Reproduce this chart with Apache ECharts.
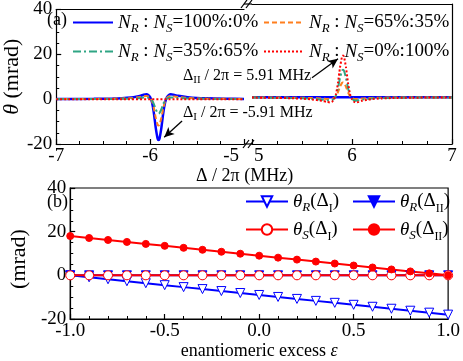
<!DOCTYPE html>
<html>
<head>
<meta charset="utf-8">
<script src="https://cdn.jsdelivr.net/npm/echarts@6/dist/echarts.min.js"></script>
<style>html,body{margin:0;padding:0;background:#fff}#main{width:463px;height:361px}</style>
</head>
<body>
<div id="main"></div>
<script>
var F = "'Liberation Serif', 'Times New Roman', serif";

// panel (a), left part: detuning around -5.91 MHz
var detL = [-7, -6.6, -6.4, -6.3, -6.2, -6.15, -6.1, -6.07, -6.04, -6.02, -6.0, -5.98, -5.96, -5.94, -5.92, -5.91, -5.9, -5.88, -5.86, -5.84, -5.82, -5.8, -5.78, -5.75, -5.7, -5.6, -5.5, -5.4, -5.2, -5.0];
var blueL = [0.05, 0.15, 0.3, 0.45, 0.75, 1.05, 1.5, 1.95, 2.2, 1.9, 0.9, -1.4, -6.2, -12.8, -17.6, -18.2, -17.6, -12.8, -6.2, -1.4, 0.9, 1.9, 2.2, 1.95, 1.5, 0.9, 0.55, 0.4, 0.2, 0.1];
var orangeL = [0.03, 0.1, 0.2, 0.3, 0.5, 0.7, 1.0, 1.25, 1.45, 1.25, 0.6, -0.9, -4.0, -8.3, -11.4, -11.8, -11.4, -8.3, -4.0, -0.9, 0.6, 1.25, 1.45, 1.25, 1.0, 0.6, 0.35, 0.25, 0.15, 0.05];
var greenL = [0.02, 0.05, 0.1, 0.15, 0.25, 0.35, 0.5, 0.7, 0.75, 0.65, 0.3, -0.5, -2.2, -4.5, -6.2, -6.4, -6.2, -4.5, -2.2, -0.5, 0.3, 0.65, 0.75, 0.7, 0.5, 0.3, 0.2, 0.15, 0.05, 0.02];
var flatL = [-7, -5];
var redL = [0, 0];

// panel (a), right part: detuning around +5.91 MHz
var detR = [5.0, 5.2, 5.4, 5.5, 5.6, 5.7, 5.75, 5.78, 5.8, 5.82, 5.84, 5.86, 5.88, 5.9, 5.91, 5.92, 5.94, 5.96, 5.98, 6.0, 6.02, 6.04, 6.07, 6.1, 6.15, 6.2, 6.3, 6.4, 6.6, 7.0];
var redR = [-0.1, -0.2, -0.4, -0.55, -0.9, -1.5, -1.95, -2.2, -1.9, -0.9, 1.4, 6.2, 12.8, 17.4, 17.9, 17.4, 12.8, 6.2, 1.4, -0.9, -1.9, -2.2, -1.95, -1.5, -1.05, -0.75, -0.45, -0.3, -0.15, -0.05];
var greenR = [-0.05, -0.15, -0.25, -0.35, -0.6, -1.0, -1.25, -1.45, -1.25, -0.6, 0.9, 4.0, 8.3, 11.4, 11.8, 11.4, 8.3, 4.0, 0.9, -0.6, -1.25, -1.45, -1.25, -1.0, -0.7, -0.5, -0.3, -0.2, -0.1, -0.03];
var orangeR = [-0.02, -0.05, -0.15, -0.2, -0.3, -0.5, -0.7, -0.75, -0.65, -0.3, 0.5, 2.2, 4.5, 6.2, 6.4, 6.2, 4.5, 2.2, 0.5, -0.3, -0.65, -0.75, -0.7, -0.5, -0.35, -0.25, -0.15, -0.1, -0.05, -0.02];
var flatR = [5, 7];
var blueR = [0, 0];

// panel (b)
var eps = [-1.0, -0.9, -0.8, -0.7, -0.6, -0.5, -0.4, -0.3, -0.2, -0.1, 0.0, 0.1, 0.2, 0.3, 0.4, 0.5, 0.6, 0.7, 0.8, 0.9, 1.0];
var thRI = [0, -0.9, -1.8, -2.7, -3.6, -4.5, -5.4, -6.3, -7.2, -8.1, -9.0, -9.9, -10.8, -11.7, -12.6, -13.5, -14.4, -15.3, -16.2, -17.1, -18.0];
var thRII = [0, 0, 0, 0, 0, 0, 0, 0, 0, 0, 0, 0, 0, 0, 0, 0, 0, 0, 0, 0, 0];
var thSI = [0, 0, 0, 0, 0, 0, 0, 0, 0, 0, 0, 0, 0, 0, 0, 0, 0, 0, 0, 0, 0];
var thSII = [18.0, 17.1, 16.2, 15.3, 14.4, 13.5, 12.6, 11.7, 10.8, 9.9, 9.0, 8.1, 7.2, 6.3, 5.4, 4.5, 3.6, 2.7, 1.8, 0.9, 0];

var yTicks = [-20, 40, 20];

function pairs(xs, ys) {
    return xs.map(function (x, i) { return [x, ys[i]]; });
}

var BLUE = '#0000ff', ORANGE = '#ff7f1e', GREEN = '#2fa584', RED = '#ff0000';

var rich = {
    i: {fontFamily: F, fontSize: 19, fontStyle: 'italic', lineHeight: 26, color: '#000'},
    n: {fontFamily: F, fontSize: 19, lineHeight: 26, color: '#000'},
    s: {fontFamily: F, fontSize: 13, fontStyle: 'italic', lineHeight: 12, verticalAlign: 'bottom', color: '#000'},
    u: {fontFamily: F, fontSize: 12, lineHeight: 12, verticalAlign: 'bottom', color: '#000'}
};
var labels = {
    r100: '{i|N}{s|R}{n| : }{i|N}{s|S}{n|=100%:0%}',
    r65: '{i|N}{s|R}{n| : }{i|N}{s|S}{n|=65%:35%}',
    r35: '{i|N}{s|R}{n| : }{i|N}{s|S}{n|=35%:65%}',
    r0: '{i|N}{s|R}{n| : }{i|N}{s|S}{n|=0%:100%}',
    RI: '{i|θ}{s|R}{n|(Δ}{u|I}{n|)}',
    RII: '{i|θ}{s|R}{n|(Δ}{u|II}{n|)}',
    SI: '{i|θ}{s|S}{n|(Δ}{u|I}{n|)}',
    SII: '{i|θ}{s|S}{n|(Δ}{u|II}{n|)}'
};

function legend(name, left, top, w, h, noSym) {
    var l = {
        data: [name], left: left, top: top, padding: 0, itemWidth: w, itemHeight: h,
        selectedMode: false,
        formatter: function (n) { return labels[n]; },
        textStyle: {fontFamily: F, fontSize: 19, color: '#000', rich: rich}
    };
    if (noSym) l.itemStyle = {opacity: 0, borderWidth: 0};
    return l;
}

var lbl = {color: '#000', fontFamily: F, fontSize: 19, margin: 4};
var line = {show: true, onZero: false, lineStyle: {color: '#000', width: 1.2}};
var tick = {show: true, inside: true, length: 5, lineStyle: {color: '#000', width: 1.2}};
var minor = {show: true, splitNumber: 4, length: 3, lineStyle: {color: '#000', width: 1}};
var bare = {axisLine: line, axisTick: {show: false}, axisLabel: {show: false}, splitLine: {show: false}};
var edge = {
    l: {fontFamily: F, fontSize: 19, color: '#000', padding: [0, 5, 0, 0]},
    r: {fontFamily: F, fontSize: 19, color: '#000', padding: [0, 0, 0, 2]}
};

function yAxis(grid, pos, showLab) {
    return {
        type: 'value', gridIndex: grid, position: pos, min: yTicks[0], max: yTicks[1], interval: yTicks[2],
        axisLine: line, axisTick: showLab ? tick : {show: false},
        minorTick: showLab ? minor : {show: false},
        axisLabel: showLab ? lbl : {show: false}, splitLine: {show: false}
    };
}

function curve(name, grid, xs, ys, color, type, width) {
    return {
        name: name, type: 'line', xAxisIndex: grid * 2, yAxisIndex: grid,
        data: pairs(xs, ys), symbol: 'none', smooth: 0.2,
        lineStyle: {color: color, width: width, type: type}, itemStyle: {color: color}
    };
}

function pts(name, ys, color, sym, fill, size) {
    return {
        name: name, type: 'line', xAxisIndex: 4, yAxisIndex: 2, data: pairs(eps, ys),
        symbol: sym, symbolSize: size, symbolRotate: sym === 'triangle' ? 180 : 0,
        lineStyle: {color: color, width: 2},
        itemStyle: {color: fill, borderColor: color, borderWidth: 1}
    };
}

var series = [
    curve('r100', 0, detL, blueL, BLUE, 'solid', 2.5),
    curve('r65', 0, detL, orangeL, ORANGE, [5, 3], 2),
    curve('r35', 0, detL, greenL, GREEN, [8, 3, 2, 3], 2),
    curve('r0', 0, flatL, redL, RED, [2, 2], 2),
    curve('r100', 1, flatR, blueR, BLUE, 'solid', 2.5),
    curve('r65', 1, detR, orangeR, ORANGE, [5, 3], 2),
    curve('r35', 1, detR, greenR, GREEN, [8, 3, 2, 3], 2),
    curve('r0', 1, detR, redR, RED, [2, 2], 2),
    pts('RI', thRI, BLUE, 'triangle', '#fff', 9),
    pts('RII', thRII, BLUE, 'triangle', BLUE, 9),
    pts('SI', thSI, RED, 'circle', '#fff', 9),
    pts('SII', thSII, RED, 'circle', RED, 7)
];
var arrow = {
    silent: true, symbol: ['none', 'arrow'], symbolSize: [7, 10], label: {show: false},
    lineStyle: {color: '#000', width: 1.3, type: 'solid'}
};
series[0].markLine = Object.assign({data: [[{coord: [-5.66, -9.7]}, {coord: [-5.85, -17.0]}]]}, arrow);
series[7].markLine = Object.assign({data: [[{coord: [5.6, 8.4]}, {coord: [5.86, 16.5]}]]}, arrow);

var richName = {
    n: {fontFamily: F, fontSize: 22, color: '#000'},
    i: {fontFamily: F, fontSize: 22, fontStyle: 'italic', color: '#000'}
};
var subText = {
    n: {fontFamily: F, fontSize: 16, lineHeight: 20, fill: '#000'},
    u: {fontFamily: F, fontSize: 11, lineHeight: 10, verticalAlign: 'bottom', fill: '#000'}
};
var panelTitle = {fontFamily: F, fontSize: 18, fontWeight: 'normal', color: '#000'};

var chart = echarts.init(document.getElementById('main'));
chart.setOption({
    animation: false,
    backgroundColor: '#fff',
    title: [
        {text: '(a)', left: 47, top: 11, padding: 0, textStyle: panelTitle},
        {text: '(b)', left: 47, top: 193, padding: 0, textStyle: panelTitle}
    ],
    grid: [
        {left: 44, top: 4, width: 200, height: 140},
        {left: 252, top: 4, width: 200, height: 140},
        {left: 44, top: 188, width: 408, height: 137, show: true, borderColor: '#000', borderWidth: 1.2}
    ],
    xAxis: [
        {type: 'value', gridIndex: 0, min: -7, max: -5, interval: 1, axisLine: line, axisTick: tick, minorTick: minor,
            axisLabel: Object.assign({}, lbl, {margin: 3, alignMaxLabel: 'right', rich: edge,
                formatter: function (v) { return v === -5 ? '{l|-5}' : String(v); }}),
            splitLine: {show: false}},
        Object.assign({type: 'value', gridIndex: 0, position: 'top', min: -7, max: -5}, bare),
        {type: 'value', gridIndex: 1, min: 5, max: 7, interval: 1, axisLine: line, axisTick: tick, minorTick: minor,
            axisLabel: Object.assign({}, lbl, {margin: 3, alignMinLabel: 'left', rich: edge,
                formatter: function (v) { return v === 5 ? '{r|5}' : String(v); }}),
            splitLine: {show: false}},
        Object.assign({type: 'value', gridIndex: 1, position: 'top', min: 5, max: 7}, bare),
        {type: 'value', gridIndex: 2, min: -1, max: 1, interval: 0.5, axisLine: line, axisTick: tick,
            minorTick: {show: true, splitNumber: 5, length: 3, lineStyle: {color: '#000', width: 1}},
            axisLabel: Object.assign({formatter: function (v) { return v.toFixed(1); }}, lbl, {margin: 3}),
            splitLine: {show: false},
            name: '{n|enantiomeric excess }{i|ε}', nameLocation: 'middle', nameGap: 23,
            nameTextStyle: {rich: {n: {fontFamily: F, fontSize: 18, color: '#000'}, i: {fontFamily: F, fontSize: 18, fontStyle: 'italic', color: '#000'}}}}
    ],
    yAxis: [
        Object.assign(yAxis(0, 'left', true), {
            name: '{i|θ}{n| (mrad)}', nameLocation: 'middle', nameGap: 21,
            nameTextStyle: {rich: richName}
        }),
        yAxis(1, 'right', false),
        Object.assign(yAxis(2, 'left', true), {
            name: '(mrad)\u00a0\u00a0', nameLocation: 'middle', nameGap: 21,
            nameTextStyle: {fontFamily: F, fontSize: 22, color: '#000'}
        })
    ],
    legend: [
        legend('r100', 72, 13, 40, 10, true), legend('r65', 263, 13, 40, 10, true),
        legend('r35', 72, 42, 40, 10, true), legend('r0', 263, 42, 40, 10, true),
        legend('RI', 245, 192, 42, 13), legend('RII', 352, 192, 42, 13),
        legend('SI', 245, 220, 42, 13), legend('SII', 352, 220, 42, 13)
    ],
    graphic: [
        {type: 'line', shape: {x1: 244, y1: 4, x2: 252, y2: 4}, style: {stroke: '#000', lineWidth: 1.2}},
        {type: 'line', shape: {x1: 244, y1: 144, x2: 252, y2: 144}, style: {stroke: '#000', lineWidth: 1.2}},
        {type: 'line', shape: {x1: 241, y1: 8, x2: 247, y2: 0}, style: {stroke: '#000', lineWidth: 1.2}},
        {type: 'line', shape: {x1: 246, y1: 8, x2: 252, y2: 0}, style: {stroke: '#000', lineWidth: 1.2}},
        {type: 'line', shape: {x1: 243, y1: 148, x2: 249, y2: 140}, style: {stroke: '#000', lineWidth: 1.2}},
        {type: 'line', shape: {x1: 248, y1: 148, x2: 254, y2: 140}, style: {stroke: '#000', lineWidth: 1.2}},
        {type: 'text', left: 196, top: 167, style: {text: 'Δ / 2π (MHz)', font: '18px ' + F, fill: '#000'}},
        {type: 'text', left: 183, top: 68, style: {text: '{n|Δ}{u|II}{n| / 2π = 5.91 MHz}', rich: subText}},
        {type: 'text', left: 183, top: 105, style: {text: '{n|Δ}{u|I}{n| / 2π = -5.91 MHz}', rich: subText}}
    ],
    series: series
});
</script>
</body>
</html>
